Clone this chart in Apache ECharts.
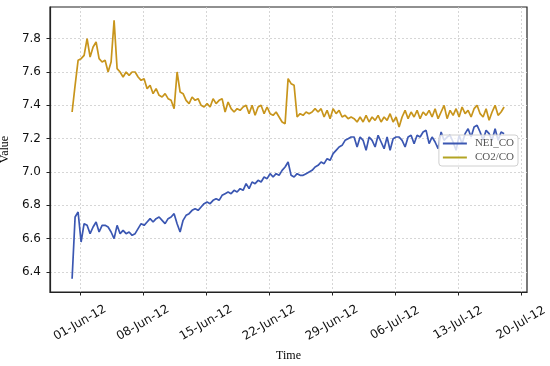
<!DOCTYPE html>
<html>
<head>
<meta charset="utf-8">
<script src="https://cdn.jsdelivr.net/npm/echarts@6/dist/echarts.min.js"></script>
<style>html,body{margin:0;padding:0;background:#fff}#c{width:550px;height:366px}</style>
</head>
<body>
<div id="c"></div>
<script>
// Time axis in days since 01-Jun-2012 00:00; samples every 8 hours starting 31-May-2012 03:00
const startDay = -0.875;
const stepDay = 1 / 3;
const tickDays = [0, 7, 14, 21, 28, 35, 42, 49];
const tickLabels = ['01-Jun-12', '08-Jun-12', '15-Jun-12', '22-Jun-12', '29-Jun-12', '06-Jul-12', '13-Jul-12', '20-Jul-12'];
const yTicks = [6.4, 6.6, 6.8, 7.0, 7.2, 7.4, 7.6, 7.8];

const neiCO = [
  6.36, 6.73, 6.76, 6.58, 6.69, 6.68, 6.63, 6.67, 6.70, 6.64,
  6.68, 6.68, 6.67, 6.64, 6.60, 6.68, 6.63, 6.65, 6.63, 6.64,
  6.62, 6.63, 6.66, 6.69, 6.68, 6.70, 6.72, 6.70, 6.72, 6.73,
  6.71, 6.69, 6.72, 6.73, 6.75, 6.69, 6.64, 6.71, 6.74, 6.75,
  6.77, 6.78, 6.77, 6.79, 6.81, 6.82, 6.81, 6.83, 6.84, 6.83,
  6.86, 6.87, 6.88, 6.87, 6.89, 6.88, 6.90, 6.89, 6.93, 6.90,
  6.94, 6.93, 6.95, 6.94, 6.97, 6.96, 6.99, 6.97, 6.99, 6.98,
  7.01, 7.03, 7.06, 6.98, 6.97, 6.99, 6.98, 6.98, 6.99, 7.00,
  7.01, 7.03, 7.04, 7.06, 7.05, 7.08, 7.07, 7.11, 7.13, 7.15,
  7.16, 7.19, 7.20, 7.21, 7.21, 7.15, 7.21, 7.19, 7.13, 7.21,
  7.19, 7.15, 7.22, 7.18, 7.14, 7.21, 7.13, 7.20, 7.21, 7.21,
  7.19, 7.15, 7.21, 7.22, 7.17, 7.22, 7.21, 7.24, 7.25, 7.17,
  7.21, 7.18, 7.14, 7.24, 7.19, 7.21, 7.22, 7.18, 7.13, 7.22,
  7.17, 7.23, 7.26, 7.21, 7.27, 7.28, 7.24, 7.19, 7.25, 7.23,
  7.19, 7.26, 7.19, 7.24, 7.23
];

const co2CO = [
  7.36, 7.52, 7.67, 7.68, 7.70, 7.80, 7.69, 7.75, 7.78, 7.68,
  7.66, 7.67, 7.60, 7.66, 7.91, 7.62, 7.60, 7.57, 7.60, 7.58,
  7.60, 7.60, 7.57, 7.55, 7.56, 7.50, 7.52, 7.47, 7.50, 7.46,
  7.45, 7.47, 7.44, 7.43, 7.38, 7.60, 7.48, 7.47, 7.43, 7.41,
  7.45, 7.43, 7.44, 7.40, 7.39, 7.41, 7.39, 7.44, 7.41, 7.43,
  7.44, 7.36, 7.42, 7.38, 7.36, 7.38, 7.37, 7.39, 7.40, 7.35,
  7.40, 7.34, 7.39, 7.40, 7.35, 7.39, 7.35, 7.34, 7.36, 7.33,
  7.30, 7.29, 7.56, 7.53, 7.52, 7.33, 7.35, 7.34, 7.36, 7.35,
  7.36, 7.38, 7.36, 7.38, 7.33, 7.37, 7.32, 7.38, 7.35, 7.37,
  7.33, 7.34, 7.32, 7.33, 7.32, 7.30, 7.33, 7.30, 7.34, 7.30,
  7.33, 7.31, 7.34, 7.30, 7.33, 7.31, 7.35, 7.30, 7.33, 7.27,
  7.33, 7.37, 7.32, 7.36, 7.33, 7.37, 7.32, 7.36, 7.34, 7.37,
  7.33, 7.38, 7.32, 7.36, 7.40, 7.32, 7.37, 7.34, 7.38, 7.33,
  7.39, 7.35, 7.37, 7.33, 7.38, 7.40, 7.35, 7.33, 7.38, 7.31,
  7.36, 7.40, 7.34, 7.36, 7.39
];

function pairs(vals) { return vals.map((v, i) => [startDay + i * stepDay, v]); }

const chart = echarts.init(document.getElementById('c'), null, { renderer: 'canvas' });
const sans = 'DejaVu Sans';
const serif = 'Liberation Serif';
chart.setOption({
  animation: false,
  backgroundColor: '#fff',
  grid: { left: 50, right: 23, top: 7, bottom: 74, containLabel: false, outerBoundsMode: 'none', show: true, borderColor: '#222', borderWidth: 1.2, backgroundColor: 'transparent' },
  xAxis: {
    type: 'value', min: -3.33, max: 49.67,
    name: 'Time', nameLocation: 'middle', nameGap: 58,
    nameTextStyle: { fontFamily: serif, fontSize: 12, color: '#000' },
    axisLine: { show: true, onZero: false, lineStyle: { color: '#222', width: 1.2 } },
    axisTick: { show: true, length: 3.5, customValues: tickDays, lineStyle: { color: '#222' } },
    axisLabel: {
      customValues: tickDays, rotate: 30, align: 'center', verticalAlign: 'middle', margin: 31,
      fontFamily: sans, fontSize: 12, color: '#111',
      formatter: v => tickLabels[tickDays.indexOf(Math.round(v))] || ''
    },
    splitLine: { show: true, lineStyle: { type: [2, 2], color: '#cccccc', width: 0.8 } }
  },
  yAxis: {
    type: 'value', min: 6.28, max: 7.99,
    name: 'Value', nameLocation: 'middle', nameGap: 33,
    nameTextStyle: { fontFamily: serif, fontSize: 12, color: '#000' },
    axisLine: { show: true, onZero: false, lineStyle: { color: '#222', width: 1.2 } },
    axisTick: { show: true, length: 3.5, customValues: yTicks, lineStyle: { color: '#222' } },
    axisLabel: { customValues: yTicks, margin: 9, fontFamily: sans, fontSize: 12, color: '#111', formatter: v => v.toFixed(1) },
    splitLine: { show: true, lineStyle: { type: [2, 2], color: '#cccccc', width: 0.8 } }
  },
  legend: {
    orient: 'vertical', right: 32, top: 135, itemWidth: 24, itemHeight: 2, itemGap: 3,
    padding: [3, 4, 3, 4], icon: 'rect',
    backgroundColor: 'rgba(255,255,255,0.8)', borderColor: '#d0d0d0', borderWidth: 1, borderRadius: 3,
    textStyle: { fontFamily: serif, fontSize: 11, color: '#555', padding: [0, 0, 0, 3] },
    data: [
      { name: 'NEI_CO' },
      { name: 'CO2/CO', itemStyle: { color: '#b3a424' } }
    ]
  },
  series: [
    { name: 'NEI_CO', type: 'line', data: pairs(neiCO), symbol: 'none', color: '#3b57b2', lineStyle: { width: 1.7, color: '#3b57b2' } },
    { name: 'CO2/CO', type: 'line', data: pairs(co2CO), symbol: 'none', color: '#c8951c', lineStyle: { width: 1.7, color: '#c8951c' } }
  ]
});
</script>
</body>
</html>
